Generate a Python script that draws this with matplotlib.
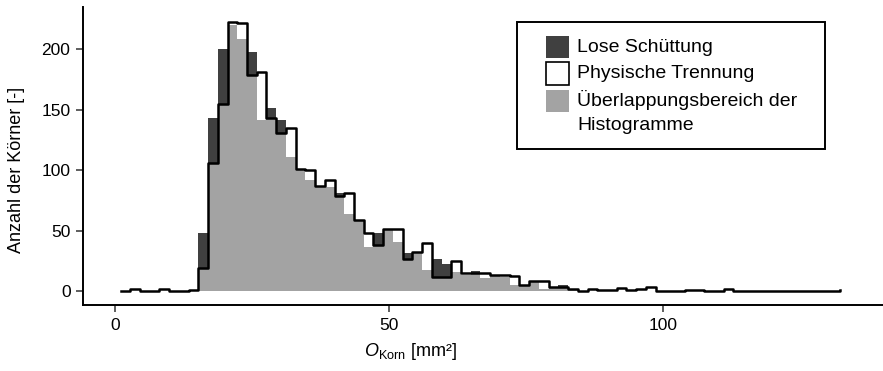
import numpy as np
import matplotlib
matplotlib.use("Agg")
import matplotlib.pyplot as plt
import matplotlib.patches as mpatches

plt.rcParams['font.family'] = ['Liberation Sans', 'DejaVu Sans']
plt.rcParams['mathtext.fontset'] = 'custom'
plt.rcParams['mathtext.rm'] = 'Liberation Sans'
plt.rcParams['mathtext.it'] = 'Liberation Sans:italic'

# histogram bins (O_Korn in mm^2)
bin_start = 0.949
bin_width = 1.7755

# counts per bin
lose = [0, 0, 0, 0, 0, 0, 0, 0, 48, 143,
        200, 220, 209, 198, 142, 152, 142, 111, 100, 92,
        87, 86, 81, 64, 58, 37, 48, 51, 41, 32,
        32, 18, 27, 23, 16, 14, 17, 11, 14, 12,
        5, 5, 9, 2, 4, 5, 1, 0, 0, 0,
        0, 0, 0, 0, 0, 0, 0, 0, 0, 0,
        0, 0, 0, 0, 0, 0, 0, 0, 0, 0,
        0, 0, 0, 0, 0]
getrennt = [0, 2, 0, 0, 2, 0, 0, 1, 19, 106,
            155, 223, 222, 179, 181, 143, 131, 135, 101, 100,
            87, 92, 79, 81, 59, 48, 38, 52, 52, 27,
            33, 40, 12, 12, 25, 15, 15, 15, 14, 14,
            13, 5, 9, 9, 4, 4, 2, 0, 2, 1,
            1, 3, 1, 2, 4, 0, 0, 0, 1, 1,
            0, 0, 2, 0, 0, 0, 0, 0, 0, 0,
            0, 0, 0, 0, 1]

labels = ['Lose Schüttung', 'Physische Trennung',
          'Überlappungsbereich der', 'Histogramme']
xticks = [0, 50, 100]
yticks = [0, 50, 100, 150, 200]

col_dark = '#404040'
col_over = '#a3a3a3'

lose = np.array(lose)
getrennt = np.array(getrennt)
lefts = bin_start + bin_width * np.arange(len(lose))
overlap = np.minimum(lose, getrennt)

W, H = 883, 371
fig = plt.figure(figsize=(W/100, H/100), dpi=100)
ax = fig.add_axes([83/W, 1 - 305/H, 1 - 83/W, (305 - 6.9)/H])

ax.bar(lefts, lose, width=bin_width, align='edge', color=col_dark, linewidth=0)
ax.bar(lefts, overlap, width=bin_width, align='edge', color=col_over, linewidth=0)
ax.step(lefts, getrennt, where='post', color='black', lw=1.8)

ax.set_xlim(-5.9, 140.1)
ax.set_ylim(-11.2, 235.2)
ax.set_xticks(xticks)
ax.set_yticks(yticks)
ax.tick_params(labelsize=12.5, length=5, width=1.1, color='#333333', pad=4)
for s in ['top', 'right']:
	ax.spines[s].set_visible(False)
for s in ['left', 'bottom']:
	ax.spines[s].set_linewidth(1.4)

# axis titles, placed in figure pixels
def fx(px):
	return px / W
def fy(py):
	return 1 - py / H

fig.text(fx(410), fy(352), r'$O_{\mathrm{Korn}}$ [mm²]', fontsize=13,
         ha='center', va='center')
fig.text(fx(17), fy(170), 'Anzahl der Körner [-]', fontsize=13,
         ha='center', va='center', rotation=90)

# legend drawn by hand so that the grey key sits on the first text line
fig.patches.append(mpatches.Rectangle((fx(517), fy(149)), fx(825) - fx(517), fy(22) - fy(149),
                                      transform=fig.transFigure, facecolor='white',
                                      edgecolor='black', linewidth=1.4))
keys = [(col_dark, 'none', 36, 58),
        ('white', 'black', 62, 85),
        (col_over, 'none', 90, 112)]
for fc, ec, y0, y1 in keys:
	fig.patches.append(mpatches.Rectangle((fx(546), fy(y1)), fx(569) - fx(546), fy(y0) - fy(y1),
	                                      transform=fig.transFigure, facecolor=fc,
	                                      edgecolor=ec, linewidth=1.2))
for lab, yc in zip(labels, [47, 73, 100, 125]):
	fig.text(fx(577), fy(yc), lab, fontsize=14, va='center')

fig.savefig('out.png', dpi=100)
